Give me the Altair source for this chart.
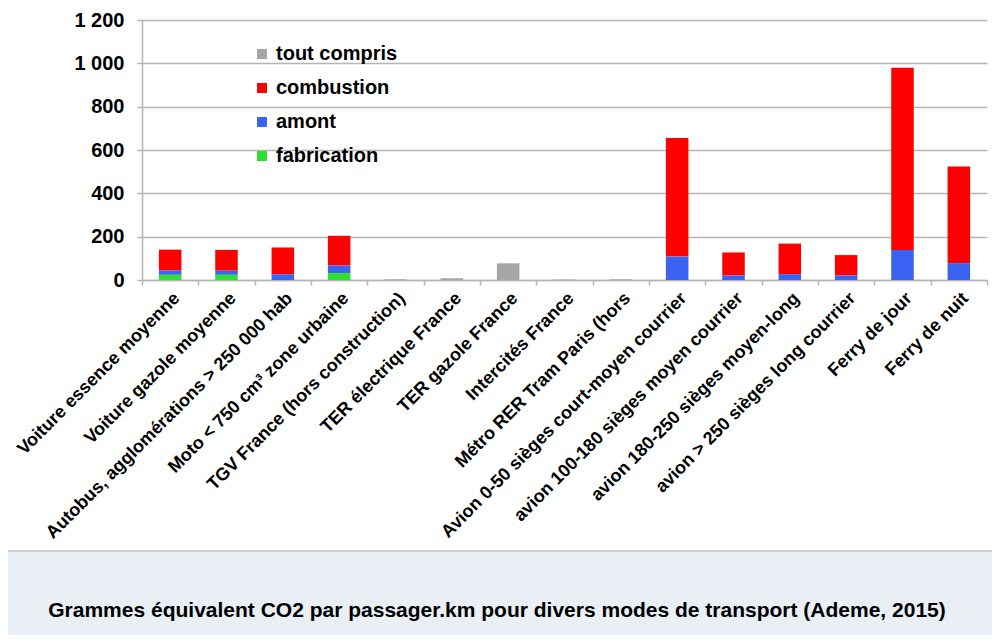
import altair as alt
import pandas as pd

categories = [
    "Voiture essence moyenne",
    "Voiture gazole moyenne",
    "Autobus, agglomérations > 250 000 hab",
    "Moto < 750 cm³ zone urbaine",
    "TGV France (hors construction)",
    "TER électrique France",
    "TER gazole France",
    "Intercités France",
    "Métro RER Tram Paris (hors",
    "Avion 0-50 sièges court-moyen courrier",
    "avion 100-180 sièges moyen courrier",
    "avion 180-250 sièges moyen-long",
    "avion > 250 sièges long courrier",
    "Ferry de jour",
    "Ferry de nuit",
]
fabrication = [24, 24, 0, 32, 0, 0, 0, 0, 0, 0, 0, 0, 0, 0, 0]
amont = [20, 19, 27, 35, 0, 0, 0, 0, 0, 108, 21, 27, 21, 139, 78]
combustion = [96, 96, 123, 137, 0, 0, 0, 0, 0, 547, 106, 141, 94, 841, 446]
tout_compris = [0, 0, 0, 0, 3, 8, 77, 2, 3, 0, 0, 0, 0, 0, 0]

series = ["tout compris", "combustion", "amont", "fabrication"]
colors = ["#a6a6a6", "#ff0000", "#3a63f2", "#2ee02e"]
stack_rank = {"fabrication": 0, "amont": 1, "combustion": 2, "tout compris": 3}
y_ticks = [0, 200, 400, 600, 800, 1000, 1200]
caption = "Grammes équivalent CO2 par passager.km pour divers modes de transport (Ademe, 2015)"

values_by_series = {
    "tout compris": tout_compris,
    "combustion": combustion,
    "amont": amont,
    "fabrication": fabrication,
}
rows = []
for s in series:
    for cat, v in zip(categories, values_by_series[s]):
        if v > 0:
            rows.append({"mode": cat, "series": s, "value": v, "rank": stack_rank[s]})
df = pd.DataFrame(rows)
cap_df = pd.DataFrame({"caption": [caption]})

FONT = "Liberation Sans"
GRID = "#b5b5b5"
W, H = 845, 260
PAD_L, PAD_T = 134, 12

bars = alt.Chart(df).mark_bar(width=alt.RelativeBandSize(0.4)).encode(
    x=alt.X(
        "mode:N",
        sort=categories,
        scale=alt.Scale(paddingInner=0, paddingOuter=0),
        axis=alt.Axis(
            title=None,
            labelAngle=-45,
            labelFontSize=18,
            labelFontWeight="bold",
            labelColor="black",
            labelFont=FONT,
            labelLimit=500,
            tickBand="extent",
            tickSize=5,
            tickColor=GRID,
            tickWidth=1.5,
            domainColor=GRID,
            domainWidth=1.5,
            grid=False,
            labelPadding=4,
        ),
    ),
    y=alt.Y(
        "value:Q",
        stack="zero",
        scale=alt.Scale(domain=[0, 1200], nice=False),
        axis=alt.Axis(
            title=None,
            values=y_ticks,
            labelExpr="replace(format(datum.value, ','), ',', ' ')",
            labelFontSize=20,
            labelFontWeight="bold",
            labelColor="black",
            labelFont=FONT,
            tickSize=5,
            tickColor=GRID,
            tickWidth=1.5,
            gridColor=GRID,
            gridWidth=1.5,
            domainColor=GRID,
            domainWidth=1.5,
            labelPadding=13,
        ),
    ),
    color=alt.Color(
        "series:N",
        scale=alt.Scale(domain=series, range=colors),
        legend=alt.Legend(
            title=None,
            orient="none",
            legendX=110,
            legendY=24,
            symbolType="square",
            symbolSize=100,
            symbolStrokeWidth=0,
            labelFontSize=20,
            labelFontWeight="bold",
            labelColor="black",
            labelFont=FONT,
            labelOffset=4,
            rowPadding=14,
            padding=0,
        ),
    ),
    order=alt.Order("rank:Q", sort="ascending"),
)

# light blue caption band below the white chart area (decoration)
band = alt.Chart(cap_df).mark_rect(
    fill="#e9eff5", stroke="#c4c8cc", strokeWidth=1.5
).encode(
    x=alt.value(-160),
    x2=alt.value(W + 30),
    y=alt.value(551 - 8 - PAD_T),
    y2=alt.value(H + 400),
)

cap = alt.Chart(cap_df).mark_text(
    fontSize=21, fontWeight="bold", font=FONT, color="black",
    align="center", baseline="middle",
).encode(
    text="caption:N",
    x=alt.value(497 - 8 - PAD_L),
    y=alt.value(611 - 8 - PAD_T),
)

chart = alt.layer(band, bars, cap).properties(
    width=W,
    height=H,
    view=alt.ViewBackground(fill="white", strokeWidth=0),
    autosize=alt.AutoSizeParams(type="none"),
    padding={"left": PAD_L, "top": PAD_T, "right": 5, "bottom": 635 - 8 - PAD_T - H},
    background="white",
).configure(font=FONT)

chart.save("out.html", embed_options={"renderer": "svg", "actions": False})
